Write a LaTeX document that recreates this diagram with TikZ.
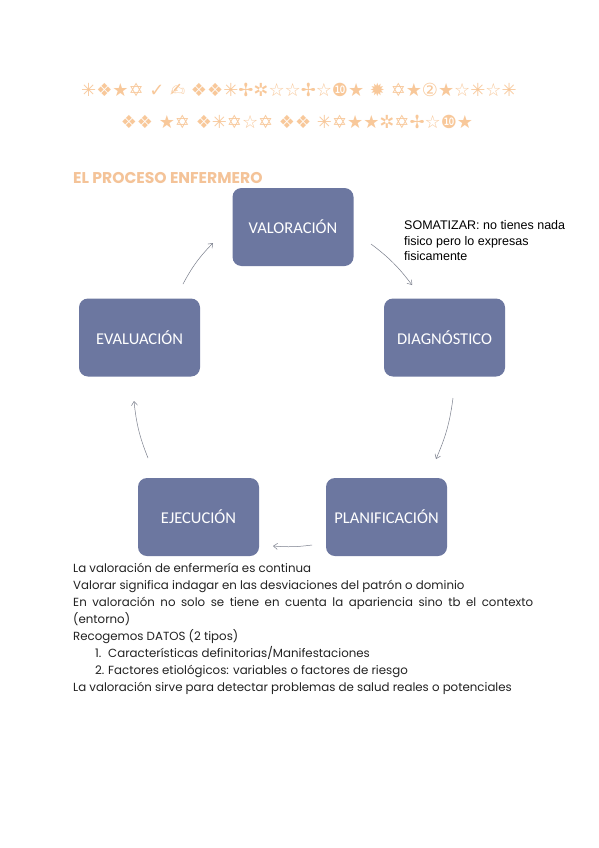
\documentclass[tikz,border=0pt]{standalone}
\usepackage{fontspec}
\setmainfont{Poppins}
\newfontfamily\symfont{DejaVu Sans}
\newfontfamily\boxfont{Carlito}
\newfontfamily\arialfont{Liberation Sans}
\usetikzlibrary{arrows.meta}
\definecolor{peach}{HTML}{F8C89A}
\definecolor{headpeach}{HTML}{F4C398}
\definecolor{boxblue}{HTML}{6C77A0}
\definecolor{arrowgray}{HTML}{7A7F8C}
\definecolor{bodytext}{HTML}{222222}
\begin{document}
\begin{tikzpicture}[x=1pt,y=-1pt,
  procbox/.style={fill=boxblue, rounded corners=9pt, minimum width=121pt, minimum height=78pt, inner sep=0pt,
    text=white, font=\boxfont\fontsize{16.5}{18}\selectfont},
  flow/.style={draw=arrowgray, line width=0.5pt, -{Straight Barb[length=4pt,width=6pt]}},
  titletext/.style={text=peach, font=\symfont\fontsize{18}{21}\selectfont, inner sep=0pt},
  bodyline/.style={anchor=base west, inner sep=0pt, text=bodytext, font=\fontsize{11.8}{14}\selectfont},
  note/.style={anchor=base west, inner sep=0pt, text=black, font=\arialfont\fontsize{12.5}{15}\selectfont}]
\useasboundingbox[fill=white] (0,0) rectangle (599,848);

% title
\node[titletext] (t1) at (299,90) {✳❖★✡ ✓ ✍ ❖❖✳✢✲☆☆✢☆❿★ ✹ ✡★②★☆✳☆✳};
\node[titletext] (t2) at (297,122) {❖❖ ★✡ ❖✳✡☆✡ ❖❖ ✳✡★★✲✡✢☆❿★};

% heading
\node[anchor=base west, inner sep=0pt, text=headpeach, font=\bfseries\fontsize{15.6}{18}\selectfont] (head) at (73,183) {EL PROCESO ENFERMERO};

% boxes
\node[procbox] (val) at (293,227) {VALORACIÓN};
\node[procbox] (eva) at (139.5,337.5) {EVALUACIÓN};
\node[procbox] (dia) at (444.5,337.5) {DIAGNÓSTICO};
\node[procbox] (eje) at (198.5,517) {EJECUCIÓN};
\node[procbox] (pla) at (386.5,517) {PLANIFICACIÓN};

% note
\node[note] (n1) at (404,229) {SOMATIZAR: no tienes nada};
\node[note] (n2) at (404,245) {fisico pero lo expresas};
\node[note] (n3) at (404,260.5) {fisicamente};

% arrow end points
\coordinate (a1s) at (183,284); \coordinate (a1e) at (213,243);
\coordinate (a2s) at (371,244); \coordinate (a2e) at (412,285);
\coordinate (a3s) at (453,398); \coordinate (a3e) at (436,459);
\coordinate (a4s) at (312,545); \coordinate (a4e) at (273,546);
\coordinate (a5s) at (148,458); \coordinate (a5e) at (134,401);

\draw[flow] (a1s) to[bend left=8] (a1e);
\draw[flow] (a2s) to[bend left=8] (a2e);
\draw[flow] (a3s) to[bend left=8] (a3e);
\draw[flow] (a4s) to[bend left=6] (a4e);
\draw[flow] (a5s) to[bend left=8] (a5e);

% body text
\node[bodyline] (b1) at (73,572.5) {La valoración de enfermería es continua};
\node[bodyline] (b2) at (73,589.5) {Valorar significa indagar en las desviaciones del patrón o dominio};
\node[bodyline] (b3) at (73,606.5) {\makebox[460pt][s]{En valoración no solo se tiene en cuenta la apariencia sino tb el contexto}};
\node[bodyline] (b4) at (73,623.5) {(entorno)};
\node[bodyline] (b5) at (73,640.5) {Recogemos DATOS (2 tipos)};
\node[bodyline] (b6n) at (95,657.5) {1.};
\node[bodyline] (b6) at (108,657.5) {Características definitorias/Manifestaciones};
\node[bodyline] (b7n) at (95,674.5) {2.};
\node[bodyline] (b7) at (108,674.5) {Factores etiológicos: variables o factores de riesgo};
\node[bodyline] (b8) at (73,691.5) {La valoración sirve para detectar problemas de salud reales o potenciales};
\end{tikzpicture}
\end{document}
